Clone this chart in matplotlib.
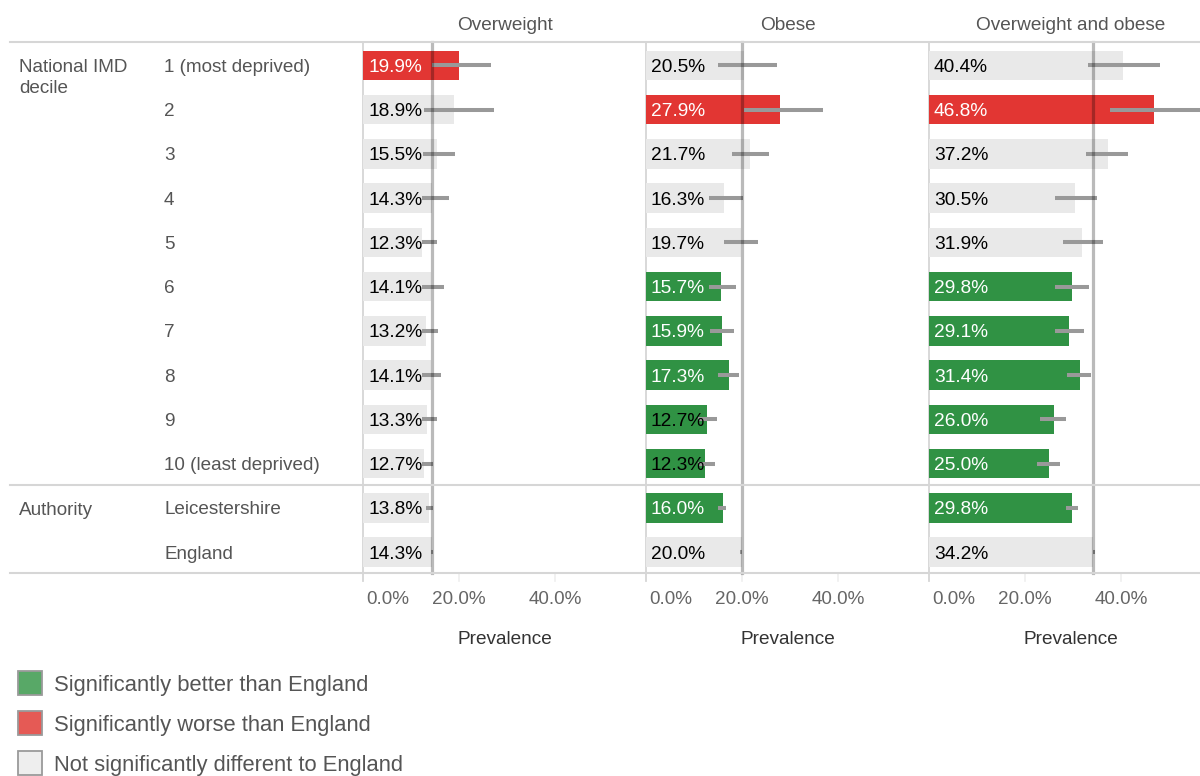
import matplotlib
matplotlib.use('Agg')
import matplotlib.pyplot as plt
from matplotlib.lines import Line2D
from matplotlib.patches import Rectangle
import matplotlib.transforms as mtransforms

plt.rcParams['font.family'] = ['Liberation Sans', 'DejaVu Sans']

# ---------------- data ----------------
panel_titles = ["Overweight", "Obese", "Overweight and obese"]
row_labels = ["1 (most deprived)", "2", "3", "4", "5", "6", "7", "8", "9",
              "10 (least deprived)", "Leicestershire", "England"]
group_labels = ["National IMD\ndecile", "Authority"]
group_starts = [0, 10]

overweight = [19.9, 18.9, 15.5, 14.3, 12.3, 14.1, 13.2, 14.1, 13.3, 12.7, 13.8, 14.3]
overweight_low = [14.3, 12.7, 12.6, 12.2, 12.2, 12.2, 12.2, 12.2, 12.2, 12.2, 13.1, 14.1]
overweight_high = [26.6, 27.3, 19.2, 17.9, 15.4, 16.9, 15.6, 16.3, 15.4, 14.6, 14.5, 14.5]
overweight_sig = [1, 0, 0, 0, 0, 0, 0, 0, 0, 0, 0, 0]   # 1 worse, -1 better, 0 not different

obese = [20.5, 27.9, 21.7, 16.3, 19.7, 15.7, 15.9, 17.3, 12.7, 12.3, 16.0, 20.0]
obese_low = [15.0, 20.5, 17.9, 13.1, 16.3, 13.1, 13.3, 15.0, 10.8, 10.8, 15.0, 19.6]
obese_high = [27.2, 36.9, 25.6, 20.2, 23.3, 18.8, 18.3, 19.4, 14.7, 14.4, 16.7, 20.0]
obese_sig = [0, 1, 0, 0, 0, -1, -1, -1, -1, -1, -1, 0]

both = [40.4, 46.8, 37.2, 30.5, 31.9, 29.8, 29.1, 31.4, 26.0, 25.0, 29.8, 34.2]
both_low = [33.1, 37.7, 32.7, 26.3, 27.9, 26.3, 26.3, 28.8, 23.1, 22.5, 28.5, 34.1]
both_high = [48.1, 57.0, 41.5, 35.0, 36.3, 33.3, 32.3, 33.8, 28.5, 27.3, 31.0, 34.5]
both_sig = [0, 1, 0, 0, 0, -1, -1, -1, -1, -1, -1, 0]

x_ticks = [0, 20, 40]
x_tick_labels = ["0.0%", "20.0%", "40.0%"]
x_title = "Prevalence"
legend_labels = ["Significantly better than England",
                 "Significantly worse than England",
                 "Not significantly different to England"]

panels = [
    (overweight, overweight_low, overweight_high, overweight_sig),
    (obese, obese_low, obese_high, obese_sig),
    (both, both_low, both_high, both_sig),
]

# ---------------- styling ----------------
W, H = 1200, 776
fig = plt.figure(figsize=(W / 100, H / 100), dpi=100)

RED = '#E23633'
GREEN = '#309244'
GREY = '#E9E9E9'
sig_colors = {1: RED, -1: GREEN, 0: GREY}
LINE = '#D6D6D6'
TXT = '#555555'

rule_top, rule_bottom = 42, 573
row_top, row_bottom = 43.2, 574.2
panel_left = [363, 646, 929]
panel_w = 283
px_per_unit = 4.8
n_rows = len(row_labels)
row_h = (row_bottom - row_top) / n_rows
TDY = 2.0  # visual text centring correction (px)


def rect(l, t, w, h):
    return [l / W, 1 - (t + h) / H, w / W, h / H]


def fy(py):
    return 1 - py / H


for k, (vals, lows, highs, sig) in enumerate(panels):
    ax = fig.add_axes(rect(panel_left[k], row_top, panel_w, row_bottom - row_top))
    ax.set_xlim(0, panel_w / px_per_unit)
    ax.set_ylim(n_rows - 0.5, -0.5)
    ax.set_axis_off()
    ys = list(range(n_rows))
    colors = [sig_colors[s] for s in sig]
    ax.barh(ys, vals, height=0.665, color=colors, zorder=2)
    ax.hlines(ys, lows, highs, color='#999999', lw=2.9, zorder=3, capstyle='butt')
    trans = mtransforms.blended_transform_factory(ax.transData, fig.transFigure)
    ax.add_line(Line2D([vals[-1]] * 2, [fy(rule_bottom), fy(rule_top)], transform=trans,
                       color='black', alpha=0.27, lw=2.3, zorder=4, clip_on=False))
    ax.add_line(Line2D([0, 0], [fy(rule_bottom + 8), fy(rule_top)], transform=trans,
                       color=LINE, lw=1.3, zorder=1, clip_on=False))
    for y, v, s in zip(ys, vals, sig):
        tc = 'white' if (s != 0 and v > 13) else 'black'
        ax.annotate(f"{v:.1f}%", (0, y), xytext=(3.6, -TDY * 0.72), textcoords='offset points',
                    va='center', ha='left', fontsize=13.8, color=tc, zorder=5)
    for t, lab in zip(x_ticks, x_tick_labels):
        if t != 0:
            ax.add_line(Line2D([t, t], [fy(rule_bottom), fy(rule_bottom + 8)], transform=trans,
                               color='#EFEFEF', lw=1.2, clip_on=False))
            ax.text(t, fy(597 + TDY), lab, transform=trans, ha='center', va='center',
                    fontsize=13.6, color='#666666', clip_on=False)
        else:
            ax.annotate(lab, (t, fy(597 + TDY)), xycoords=trans, xytext=(2.5, 0),
                        textcoords='offset points', ha='left', va='center',
                        fontsize=13.6, color='#666666', annotation_clip=False)
    cx = (panel_left[k] + panel_w / 2) / W
    fig.text(cx, fy(23 + TDY), panel_titles[k], ha='center', va='center', fontsize=13.7, color=TXT)
    fig.text(cx, fy(638 + TDY), x_title, ha='center', va='center', fontsize=13.7, color='#333333')

# horizontal rules
for py in [rule_top, row_top + row_h * group_starts[1] - 0.7, rule_bottom]:
    fig.add_artist(Line2D([10 / W, 1], [fy(py), fy(py)], transform=fig.transFigure,
                          color=LINE, lw=1.5))

# row labels
for i, lab in enumerate(row_labels):
    fig.text(164 / W, fy(row_top + row_h * (i + 0.5) + TDY), lab, ha='left', va='center',
             fontsize=13.6, color=TXT)
for gs, gl in zip(group_starts, group_labels):
    fig.text(19 / W, fy(row_top + row_h * (gs + 0.5) - 6), gl, ha='left', va='top',
             fontsize=13.6, color=TXT, linespacing=1.25)

# legend
leg_colors = ['#58A867', '#E55A55', '#EEEEEE']
for i, (lab, c) in enumerate(zip(legend_labels, leg_colors)):
    cy = 683 + 40 * i
    fig.add_artist(Rectangle((18 / W, fy(cy + 12)), 24 / W, 24 / H, transform=fig.transFigure,
                             facecolor=c, edgecolor='#9A9A9A', lw=1.3))
    fig.text(54 / W, fy(cy + 2), lab, ha='left', va='center', fontsize=15.8, color=TXT)

fig.savefig('out.png', dpi=100)
